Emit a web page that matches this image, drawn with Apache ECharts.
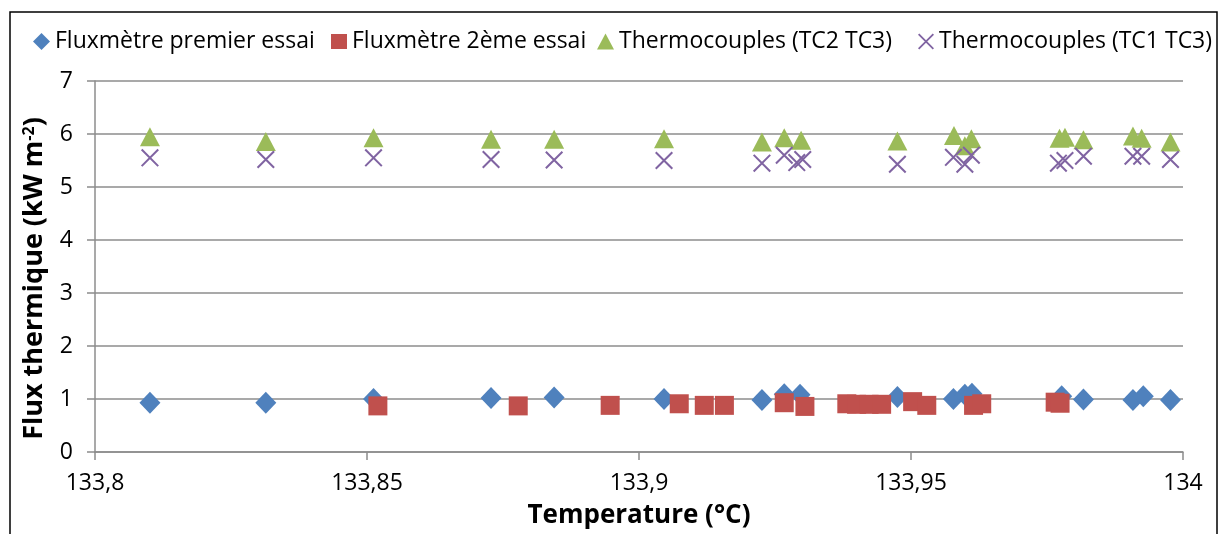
<!DOCTYPE html>
<html>
<head>
<meta charset="utf-8">
<script src="https://cdn.jsdelivr.net/npm/echarts@6/dist/echarts.min.js"></script>
<style>
html,body{margin:0;padding:0;background:#fff;}
#chart{width:1220px;height:534px;}
</style>
</head>
<body>
<div id="chart"></div>
<script>
// ---- Data ----
const seriesNames = ['Fluxmètre premier essai', 'Fluxmètre 2ème essai', 'Thermocouples (TC2 TC3)', 'Thermocouples (TC1 TC3)'];

const tempFlux1 = [133.8101, 133.8314, 133.8512, 133.8728, 133.8844, 133.9046, 133.9226, 133.9267, 133.9296, 133.9475, 133.9578, 133.9599, 133.9612, 133.9777, 133.9817, 133.9908, 133.9927, 133.9977];
const valFlux1  = [0.93, 0.93, 1.00, 1.02, 1.03, 1.00, 0.98, 1.09, 1.08, 1.04, 1.00, 1.08, 1.10, 1.05, 0.99, 0.98, 1.05, 0.98];

const tempFlux2 = [133.8520, 133.8778, 133.8947, 133.9074, 133.9120, 133.9157, 133.9267, 133.9305, 133.9382, 133.9400, 133.9423, 133.9446, 133.9503, 133.9529, 133.9615, 133.9630, 133.9765, 133.9774];
const valFlux2  = [0.87, 0.87, 0.88, 0.91, 0.88, 0.88, 0.93, 0.86, 0.91, 0.90, 0.90, 0.90, 0.95, 0.88, 0.88, 0.91, 0.94, 0.92];

const tempTC23 = [133.8101, 133.8314, 133.8512, 133.8728, 133.8844, 133.9046, 133.9226, 133.9267, 133.9298, 133.9475, 133.9579, 133.9599, 133.9611, 133.9773, 133.9783, 133.9817, 133.9908, 133.9924, 133.9977];
const valTC23  = [5.95, 5.86, 5.93, 5.90, 5.90, 5.91, 5.85, 5.93, 5.88, 5.87, 5.97, 5.78, 5.91, 5.92, 5.94, 5.89, 5.96, 5.92, 5.85];

const tempTC13 = [133.8101, 133.8314, 133.8512, 133.8728, 133.8844, 133.9046, 133.9226, 133.9267, 133.9290, 133.9301, 133.9475, 133.9578, 133.9599, 133.9611, 133.9771, 133.9783, 133.9817, 133.9908, 133.9924, 133.9977];
const valTC13  = [5.55, 5.52, 5.55, 5.52, 5.51, 5.50, 5.45, 5.60, 5.46, 5.52, 5.43, 5.56, 5.43, 5.60, 5.45, 5.50, 5.58, 5.58, 5.58, 5.52];

const xTickLabels = ['133,8', '133,85', '133,9', '133,95', '134'];
const yTickLabels = ['0', '1', '2', '3', '4', '5', '6', '7'];

// ---- Styling ----
const FONT = 'Open Sans';
const colors = ['#4F81BD', '#C0504D', '#9BBB59', '#8064A2'];
const xPath = 'path://M0,0.8 L0.8,0 L10,9.2 L9.2,10 Z M9.2,0 L10,0.8 L0.8,10 L0,9.2 Z';
const symbols = ['diamond', 'rect', 'triangle', xPath];
const sizes = [[21, 22], [19, 19], [20, 19], [18, 18]];
const legendSizes = [[17, 17], [16, 15], [17, 16], [16, 16]];
const pairs = [[tempFlux1, valFlux1], [tempFlux2, valFlux2], [tempTC23, valTC23], [tempTC13, valTC13]];

const chart = echarts.init(document.getElementById('chart'));

const legendLefts = [28, 326, 592, 913];
const legends = seriesNames.map((n, i) => ({
  data: [{ name: n, icon: symbols[i] }],
  left: legendLefts[i],
  top: 25,
  itemWidth: legendSizes[i][0],
  itemHeight: legendSizes[i][1],
  itemGap: 0,
  textStyle: { fontFamily: FONT, fontSize: 23, color: '#000' },
  selectedMode: false
}));

chart.setOption({
  animation: false,
  color: colors,
  graphic: [{
    type: 'rect', silent: true, z: -10,
    shape: { x: 10, y: 12, width: 1207, height: 600 },
    style: { fill: 'none', stroke: '#000', lineWidth: 1.5 }
  }],
  legend: legends,
  grid: { left: 95, right: 37, top: 81, bottom: 80, containLabel: false },
  xAxis: {
    type: 'value', min: 133.8, max: 134, interval: 0.05,
    name: 'Temperature (°C)', nameLocation: 'middle', nameGap: 51,
    nameTextStyle: { fontFamily: FONT, fontSize: 26, fontWeight: 'bold', color: '#000' },
    axisLine: { show: true, lineStyle: { color: '#8C8C8C', width: 1.5 } },
    axisTick: { show: true, length: 8, lineStyle: { color: '#8C8C8C', width: 1.5 } },
    axisLabel: {
      fontFamily: FONT, fontSize: 23, color: '#000', margin: 20,
      formatter: v => xTickLabels[Math.round((v - 133.8) / 0.05)]
    },
    splitLine: { show: false }
  },
  yAxis: {
    type: 'value', min: 0, max: 7, interval: 1,
    name: '{a|Flux thermique (kW m}{s|-2}{a|)}', nameLocation: 'middle', nameGap: 47,
    nameTextStyle: {
      fontFamily: FONT, fontSize: 27, fontWeight: 'bold', color: '#000',
      padding: [0, 24, 0, 0],
      rich: {
        a: { fontFamily: FONT, fontSize: 27, fontWeight: 'bold', color: '#000' },
        s: { fontFamily: FONT, fontSize: 16, fontWeight: 'bold', color: '#000', verticalAlign: 'top' }
      }
    },
    axisLine: { show: true, lineStyle: { color: '#8C8C8C', width: 1.5 } },
    axisTick: { show: true, length: 8, lineStyle: { color: '#8C8C8C', width: 1.5 } },
    axisLabel: {
      fontFamily: FONT, fontSize: 23, color: '#000', margin: 22,
      formatter: v => yTickLabels[Math.round(v)]
    },
    splitLine: { show: true, lineStyle: { color: '#8C8C8C', width: 1.5 } }
  },
  series: pairs.map((p, i) => ({
    name: seriesNames[i],
    type: 'scatter',
    symbol: symbols[i],
    symbolSize: sizes[i],
    itemStyle: { color: colors[i], opacity: 1 },
    data: p[0].map((t, k) => [t, p[1][k]])
  }))
});
</script>
</body>
</html>
